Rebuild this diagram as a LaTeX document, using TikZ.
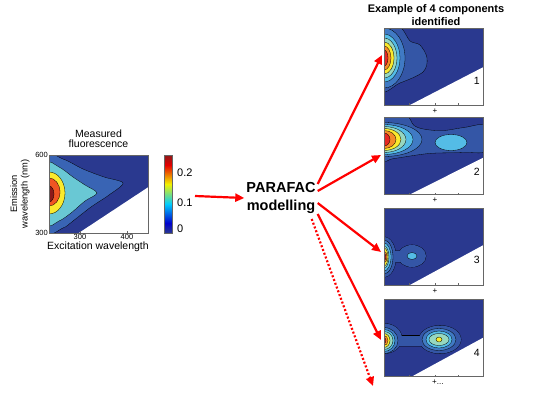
\documentclass[tikz,border=0pt]{standalone}
\usepackage{fontspec}
\setmainfont{Liberation Sans}
\usetikzlibrary{arrows.meta,positioning}

\definecolor{lvA}{RGB}{42,57,143}
\definecolor{lvB}{RGB}{52,86,166}
\definecolor{lvC}{RGB}{64,122,196}
\definecolor{lvD}{RGB}{84,188,230}
\definecolor{lvE}{RGB}{150,216,192}
\definecolor{lvF}{RGB}{250,234,45}
\definecolor{lvG}{RGB}{245,140,40}
\definecolor{lvH}{RGB}{228,40,35}
\definecolor{mB}{RGB}{57,100,180}
\definecolor{mC}{RGB}{105,200,212}
\definecolor{mG}{RGB}{240,85,35}
\definecolor{mH}{RGB}{140,25,25}

\begin{document}
\begin{tikzpicture}[x=1pt, y=-1pt,
	plotbox/.style={minimum width=99pt, minimum height=77pt, inner sep=0pt, outer sep=0pt},
	frame/.style={draw=black!60, line width=0.4pt},
	lev/.style={fill=#1, draw=black, line width=0.3pt},
	redarrow/.style={draw=red, line width=2.2pt, -{Triangle[length=9pt,width=8pt]}},
	tick/.style={font=\fontsize{7.5}{9}\selectfont, inner sep=1pt},
	num/.style={font=\fontsize{10.5}{12}\selectfont, inner sep=1pt, anchor=east},
	plus/.style={font=\fontsize{8}{9}\selectfont, inner sep=0pt}]
			\fill[white] (0,0) rectangle (555,394);
			\useasboundingbox (0,0) rectangle (555,394);
			% Measured fluorescence
			\node[plotbox, minimum height=78pt] (meas) at (98.5,194) {};
			\begin{scope}[shift={(meas.north west)}]
				\clip (0,0) rectangle (99,78);
				\fill[lvA] (0,0) rectangle (99,78);
				\draw[lev=mB] plot[smooth cycle, tension=0.5] coordinates {(-3,3) (14,4) (34,14) (55,22) (74,28) (60,40) (42,52) (24,66) (14,73) (-3,75)};
				\draw[lev=mC] plot[smooth cycle, tension=0.5] coordinates {(-3,10) (10,12) (24,22) (36,30) (48,38) (36,46) (22,58) (10,66) (-3,68)};
				\draw[lev=lvF] (0,38) ellipse[x radius=16, y radius=21];
				\draw[lev=mG] (0,37) ellipse[x radius=11, y radius=14];
				\draw[lev=mH] (0,39) ellipse[x radius=5, y radius=8];
				\fill[white] (29,78.5) -- (99.5,32) -- (99.5,78.5) -- cycle;
			\end{scope}
			\draw[frame] (meas.north west) rectangle (meas.south east);
			\foreach \t in {31,78} \draw[frame] ([xshift=\t pt]meas.south west) -- ++(0,-2);
			\node[align=center, font=\fontsize{10.5}{9.5}\selectfont] (mtitle) [above=4pt of meas] {Measured\\fluorescence};
			\node[rotate=90, align=center, font=\fontsize{9.3}{10.5}\selectfont] (ylab) at (20,194) {Emission\\wavelength (nm)};
			\node[tick, anchor=east] (y600) at (meas.north west) {600};
			\node[tick, anchor=east] (y300) at (meas.south west) {300};
			\node[tick] (x300) at (80,236.5) {300};
			\node[tick] (x400) at (127,236.5) {400};
			\node[font=\fontsize{10.5}{12}\selectfont, inner sep=1pt] (xlab) at (98,246.5) {Excitation wavelength};
			% colour bar
			\node[minimum width=8pt, minimum height=78pt, inner sep=0pt, outer sep=0pt] (cbar) at (168,194) {};
			\shade[bottom color=lvA, top color=blue!80!black] (164,223) rectangle (172,233);
			\shade[bottom color=blue!80!black, top color=cyan!80!blue] (164,204) rectangle (172,223.2);
			\shade[bottom color=cyan!80!blue, top color=yellow!95!black] (164,184) rectangle (172,204.2);
			\shade[bottom color=yellow!95!black, top color=red!90!black] (164,165) rectangle (172,184.2);
			\shade[bottom color=red!90!black, top color=mH] (164,155) rectangle (172,165.2);
			\draw[frame] (cbar.north west) rectangle (cbar.south east);
			\node[font=\fontsize{11}{12}\selectfont, anchor=west, inner sep=1pt] (cb2) at (176,173) {0.2};
			\node[font=\fontsize{11}{12}\selectfont, anchor=west, inner sep=1pt] (cb1) at (176,203) {0.1};
			\node[font=\fontsize{11}{12}\selectfont, anchor=west, inner sep=1pt] (cb0) at (176,229) {0};
			% PARAFAC
			\node[font=\fontsize{14.5}{18}\selectfont\bfseries, align=center, inner sep=2pt] (parafac) at (281,198) {PARAFAC\\modelling};
			\coordinate (fromplot) at (195,196);
			\draw[redarrow] (fromplot) -- (parafac.west);
			% Components
			\node[font=\fontsize{11}{13}\selectfont\bfseries, align=center] (title) at (436,15) {Example of 4 components\\identified};
			\node[plotbox] (p1) at (433.5,66.5) {};
			\node[plotbox] (p2) at (433.5,156) {};
			\node[plotbox] (p3) at (433.5,246.5) {};
			\node[plotbox] (p4) at (433.5,338) {};
			% component 1
			\begin{scope}[shift={(p1.north west)}]
				\clip (0,0) rectangle (99,77);
				\fill[lvA] (0,0) rectangle (99,77);
				\draw[lev=lvB] plot[smooth cycle, tension=0.55] coordinates {(-4,-4) (16,-1) (26,13) (36,17) (43,30) (39,44) (16,55) (-4,61)};
				\foreach \rx/\ry/\c in {21/30/lvC, 16/24/lvD, 13/20/lvE, 10/16/lvF, 7/12/lvG, 4/8/lvH}
					\draw[lev=\c] (0,30) ellipse[x radius=\rx, y radius=\ry];
				\fill[white] (25,77.5) -- (99.5,39) -- (99.5,77.5) -- cycle;
			\end{scope}
			% component 2
			\begin{scope}[shift={(p2.north west)}]
				\clip (0,0) rectangle (99,77);
				\fill[lvA] (0,0) rectangle (99,77);
				\draw[lev=lvB] plot[smooth cycle, tension=0.55] coordinates {(-4,-4) (22,-2) (30,8) (42,12) (60,13) (80,10) (104,8) (104,33) (80,35) (45,36) (10,41) (-4,42)};
				\draw[lev=lvD] (67,25) ellipse[x radius=16, y radius=8];
				\foreach \rx/\ry/\c in {38/17/lvC, 29/15/lvD, 22/13/lvE, 17/11/lvF, 12/9/lvG, 6/6.5/lvH}
					\draw[lev=\c] (0,22) ellipse[x radius=\rx, y radius=\ry];
				\fill[white] (25,77.5) -- (99.5,40) -- (99.5,77.5) -- cycle;
			\end{scope}
			% component 3
			\begin{scope}[shift={(p3.north west)}]
				\clip (0,0) rectangle (99,77);
				\fill[lvA] (0,0) rectangle (99,77);
				\draw[line width=0.6pt] (0,49) ellipse[x radius=12, y radius=20] (28,48) ellipse[x radius=14, y radius=11] (6,43) rectangle (22,54);
				\fill[lvB] (0,49) ellipse[x radius=12, y radius=20];
				\fill[lvB] (28,48) ellipse[x radius=14, y radius=11];
				\fill[lvB] (6,43) rectangle (22,54);
				\draw[lev=lvD] (28,48) ellipse[x radius=5, y radius=3.5];
				\foreach \rx/\ry/\c in {9/17/lvC, 7/14/lvD, 5/11/lvE, 4/9/lvF, 3/6/lvG, 2/4/lvH}
					\draw[lev=\c] (0,49) ellipse[x radius=\rx, y radius=\ry];
				\fill[white] (25,77.5) -- (99.5,37) -- (99.5,77.5) -- cycle;
			\end{scope}
			% component 4
			\begin{scope}[shift={(p4.north west)}]
				\clip (0,0) rectangle (99,77);
				\fill[lvA] (0,0) rectangle (99,77);
				\draw[line width=0.6pt] (0,39) ellipse[x radius=18, y radius=15] (56,40) ellipse[x radius=21, y radius=14] (14,36) rectangle (38,46.5);
				\fill[lvB] (0,39) ellipse[x radius=18, y radius=15];
				\fill[lvB] (56,40) ellipse[x radius=21, y radius=14];
				\fill[lvB] (14,36) rectangle (38,46.5);
				\foreach \rx/\ry/\c in {17/11/lvC, 13/8.5/lvD, 10/6/lvE, 3/2.5/lvF}
					\draw[lev=\c] (55,40) ellipse[x radius=\rx, y radius=\ry];
				\foreach \rx/\ry/\c in {14/13/lvC, 11/11/lvD, 9/9/lvE, 6/7/lvF, 4/5/lvG, 2/3/lvH}
					\draw[lev=\c] (0,41) ellipse[x radius=\rx, y radius=\ry];
				\fill[white] (27,77.5) -- (99.5,38) -- (99.5,77.5) -- cycle;
			\end{scope}
			\foreach \p/\n/\dy in {p1/1/14.5, p2/2/16, p3/3/13.5, p4/4/15}{
				\draw[frame] (\p.north west) rectangle (\p.south east);
				\foreach \t in {25,51,74} \draw[frame] ([xshift=\t pt]\p.south west) -- ++(0,-2);
				\node[num] (n\n) at ([xshift=-2pt,yshift=-\dy pt]\p.east) {\n};
			}
			\node[plus] (s1) at ([xshift=1.5pt,yshift=-6pt]p1.south) {+};
			\node[plus] (s2) at ([xshift=1.5pt,yshift=-6pt]p2.south) {+};
			\node[plus] (s3) at ([xshift=1.5pt,yshift=-6pt]p3.south) {+};
			\node[plus, anchor=west] (s4) at ([xshift=-1.5pt,yshift=-6pt]p4.south) {+...};
			% arrows to components
			\draw[redarrow] ([yshift=14pt]parafac.east) -- ([xshift=-2pt,yshift=11.5pt]p1.west);
			\draw[redarrow] ([yshift=7pt]parafac.east) -- ([xshift=-3pt,yshift=1pt]p2.west);
			\draw[redarrow] ([yshift=-5pt]parafac.east) -- ([xshift=-3pt,yshift=-5.5pt]p3.west);
			\draw[redarrow] ([yshift=-16pt]parafac.east) -- ([xshift=-3pt,yshift=-2pt]p4.west);
			\coordinate (more) at (373,386);
			\draw[redarrow, dash pattern=on 2pt off 2pt] ([xshift=-6pt,yshift=-21pt]parafac.east) -- (more);
		\end{tikzpicture}
\end{document}
